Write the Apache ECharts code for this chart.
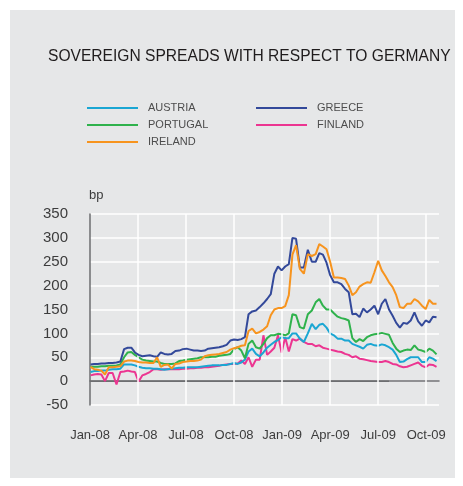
<!DOCTYPE html>
<html>
<head>
<meta charset="utf-8">
<script src="https://cdn.jsdelivr.net/npm/echarts@6/dist/echarts.min.js"></script>
<style>
html,body{margin:0;padding:0;background:#fff;}
#chart{width:463px;height:486px;}
</style>
</head>
<body>
<div id="chart"></div>
<script>
// weekly observations starting 2008-01-02
const startDate = '2008-01-02';
const tickLabels = ['Jan-08','Apr-08','Jul-08','Oct-08','Jan-09','Apr-09','Jul-09','Oct-09'];
const zeroLineEnd = '2009-07-22';

const austria = [19,21,21,22,22,24,25,25,26,35,
35,35,33,30,28,27,27,26,26,25,
24,25,26,27,28,28,29,29,29,29,
30,31,32,33,33,33,34,34,36,38,
36,39,45,62,68,57,52,60,70,76,
82,86,92,90,90,100,100,89,82,100,
120,109,118,120,112,100,96,89,89,85,
85,78,75,72,68,76,78,75,74,77,
75,71,66,55,40,41,46,50,50,50,
40,40,50,47,42];

const greece = [35,36,36,37,37,38,38,39,41,67,
70,70,60,55,52,53,54,52,51,60,
57,56,57,63,64,67,68,66,64,64,
63,64,68,69,70,71,73,76,85,87,
86,88,92,140,146,148,155,163,172,182,
225,240,232,240,245,300,298,238,238,275,
250,250,268,265,248,222,207,207,203,193,
186,140,141,134,152,144,150,158,140,162,
172,150,137,122,112,122,120,127,144,125,
116,127,123,135,134];

const portugal = [30,30,30,31,31,32,32,33,35,50,
60,61,55,50,45,43,42,41,41,38,
36,36,36,37,42,43,45,46,47,48,
50,50,50,51,51,53,54,55,57,67,
71,64,48,78,85,71,68,78,90,96,
96,99,98,96,100,140,138,113,110,140,
148,165,172,158,150,150,142,135,132,130,
127,90,82,88,84,92,96,98,99,101,
99,97,80,68,61,64,66,65,75,66,
64,61,68,64,56];

const finland = [12,14,15,14,0,17,17,-7,19,20,
22,20,19,-1,12,15,19,25,25,24,
25,25,25,25,25,26,26,27,27,28,
28,29,29,30,31,32,34,35,36,36,
37,43,36,50,30,45,45,96,55,62,
70,96,60,92,62,88,85,89,82,78,
78,73,75,70,68,66,64,62,61,57,
55,50,52,47,46,44,42,41,40,40,
42,40,36,35,31,29,30,33,36,39,
32,29,35,34,30];

const ireland = [30,25,24,22,14,29,29,30,31,41,
43,43,42,40,39,39,38,38,50,30,
34,35,26,36,37,40,41,42,42,43,
45,52,54,55,56,57,59,61,66,69,
71,74,75,105,110,100,103,108,115,138,
150,153,153,157,180,265,285,235,225,266,
262,266,287,282,276,250,217,217,216,214,
200,180,186,198,203,207,206,228,252,232,
220,207,197,180,155,153,162,162,172,167,
158,151,170,162,162];

function monthPos(d){
  const y=d.getUTCFullYear(), m=d.getUTCMonth(), day=d.getUTCDate();
  const dim=new Date(Date.UTC(y,m+1,0)).getUTCDate();
  return (y-2008)*12+m+(day-1)/dim;
}
const t0 = Date.parse(startDate+'T00:00:00Z');
const xs = austria.map((_,i)=>monthPos(new Date(t0+i*7*86400000)));
const zeroEnd = monthPos(new Date(Date.parse(zeroLineEnd+'T00:00:00Z')));
const pair = arr => arr.map((v,i)=>[xs[i],v]);

const FONT = 'Liberation Sans';
const lineSeries = (name,data,color,z) => ({
  name, type:'line', data:pair(data), showSymbol:false, symbol:'none',
  lineStyle:{color, width:2}, itemStyle:{color}, z, animation:false
});

const chart = echarts.init(document.getElementById('chart'));
chart.setOption({
  backgroundColor:'#ffffff',
  animation:false,
  textStyle:{fontFamily:FONT},
  graphic:[
    {type:'rect', z:-100, shape:{x:10,y:10,width:445,height:468}, style:{fill:'#e6e7e8'}},
    {type:'text', left:89, top:189, style:{text:'bp', fontSize:13, fill:'#3c3c3c', fontFamily:FONT}}
  ],
  title:{text:'SOVEREIGN SPREADS WITH RESPECT TO GERMANY', left:48, top:49, padding:0,
    textStyle:{fontSize:15.6, fontWeight:'normal', color:'#1f1c1d', fontFamily:FONT}},
  legend:[
    {left:87, top:102, padding:0, orient:'vertical', data:['AUSTRIA','PORTUGAL','IRELAND'],
     icon:'rect', itemWidth:51, itemHeight:2, itemGap:5,
     textStyle:{fontSize:11, color:'#4d4d4d', lineHeight:12, padding:[0,0,0,5], fontFamily:FONT}},
    {left:256, top:102, padding:0, orient:'vertical', data:['GREECE','FINLAND'],
     icon:'rect', itemWidth:51, itemHeight:2, itemGap:5,
     textStyle:{fontSize:11, color:'#4d4d4d', lineHeight:12, padding:[0,0,0,5], fontFamily:FONT}}
  ],
  grid:{left:90, right:24, top:214, bottom:81},
  xAxis:{type:'value', min:0, max:21.8, interval:3,
    axisLine:{show:true, lineStyle:{color:'#6d6e71', width:1.5}},
    axisTick:{show:false}, splitLine:{show:false},
    axisLabel:{fontSize:13, color:'#3c3c3c', margin:24, fontFamily:FONT,
      formatter:v=>{const k=Math.round(v); return (Math.abs(v-k)<1e-6 && k%3===0)?(tickLabels[k/3]||''):'';}}
  },
  yAxis:{type:'value', min:-50, max:350, interval:50,
    axisLine:{show:true, lineStyle:{color:'#6d6e71', width:1.5}},
    axisTick:{show:false},
    splitLine:{show:true, lineStyle:{color:'#ffffff', width:1.5}},
    axisLabel:{fontSize:15, color:'#3c3c3c', margin:22, fontFamily:FONT}
  },
  series:[
    {name:'vgrid', type:'line', data:[], z:0, silent:true,
     markLine:{silent:true, symbol:'none', label:{show:false}, animation:false,
       lineStyle:{color:'#ffffff', width:1.5, type:'solid'},
       data:tickLabels.slice(1).map((_,i)=>({xAxis:(i+1)*3}))}},
    {name:'zero', type:'line', data:[[0,0],[zeroEnd,0]], showSymbol:false, symbol:'none',
     lineStyle:{color:'#6d6e71', width:1.5}, z:1, silent:true},
    lineSeries('FINLAND', finland, '#ec3591', 2),
    lineSeries('AUSTRIA', austria, '#1aa6d3', 3),
    lineSeries('PORTUGAL', portugal, '#2fb24c', 4),
    lineSeries('GREECE', greece, '#33499a', 5),
    lineSeries('IRELAND', ireland, '#f7941e', 6)
  ]
});
</script>
</body>
</html>
